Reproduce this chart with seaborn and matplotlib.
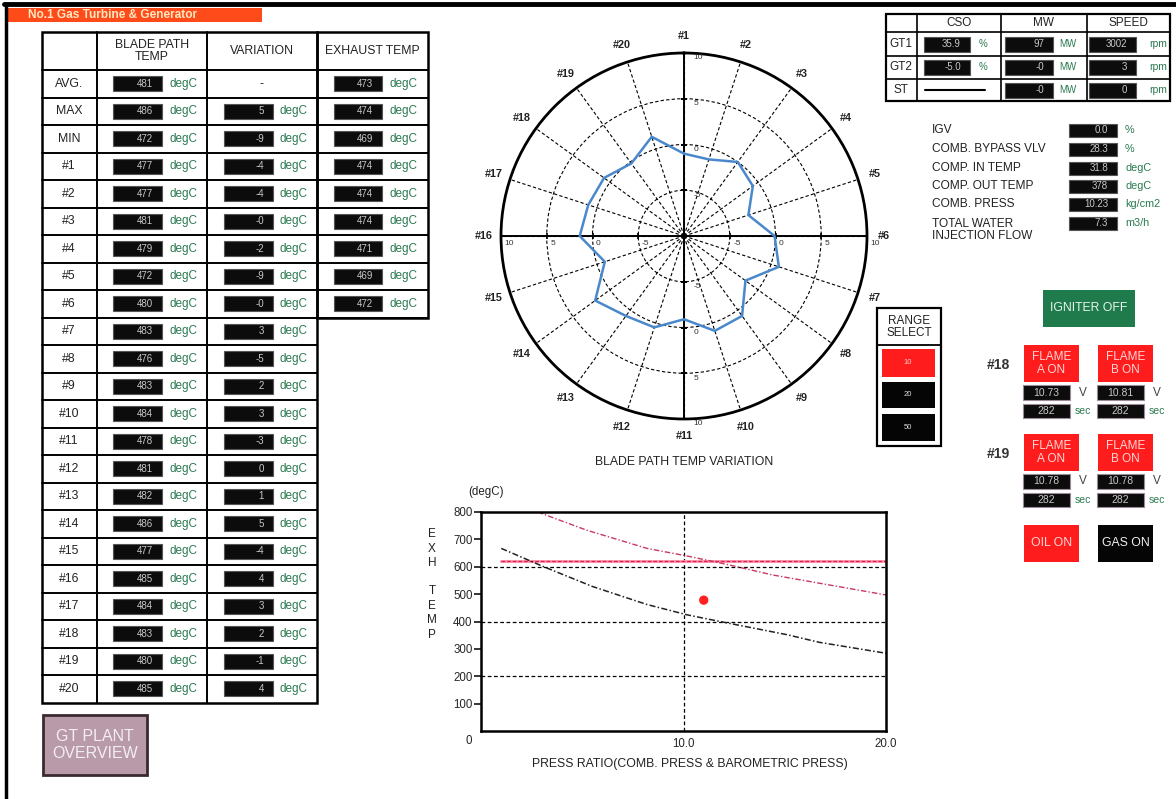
import numpy as np
import matplotlib.pyplot as plt
import seaborn as sns
from matplotlib.patches import Rectangle

W, H = 1176, 799

# ---- blade path table ----
row_labels = ['AVG.', 'MAX', 'MIN'] + ['#%d' % i for i in range(1, 21)]
blade_temp = [481, 486, 472, 477, 477, 481, 479, 472, 480, 483, 476, 483,
              484, 478, 481, 482, 486, 477, 485, 484, 483, 480, 485]
variation = ['-', '5', '-9', '-4', '-4', '-0', '-2', '-9', '-0', '3', '-5', '2',
             '3', '-3', '0', '1', '5', '-4', '4', '3', '2', '-1', '4']
exhaust_temp = [473, 474, 469, 474, 474, 474, 471, 469, 472]

# ---- radar (variation) ----
spoke_labels = ['#%d' % i for i in range(1, 21)]
radar_var = [-1.0, -1.2, 0.0, -0.7, -2.6, -0.1, 0.9, -1.7, 0.8, 0.9,
             -0.9, 0.5, 0.8, 2.0, -0.9, 1.4, 1.0, 0.8, -0.2, 1.4]
ring_values = [-5, 0, 5, 10]
ring_labels = ['-5', '0', '5', '10']
range_options = ['10', '20', '50']

# ---- unit table ----
unit_rows = ['GT1', 'GT2', 'ST']
cso = ['35.9', '-5.0', None]
mw = ['97', '-0', '-0']
speed = ['3002', '3', '0']

proc_labels = ['IGV', 'COMB. BYPASS VLV', 'COMP. IN TEMP', 'COMP. OUT TEMP',
               'COMB. PRESS', 'TOTAL WATER\nINJECTION FLOW']
proc_values = ['0.0', '28.3', '31.8', '378', '10.23', '7.3']
proc_units = ['%', '%', 'degC', 'degC', 'kg/cm2', 'm3/h']

flame18_volt = ['10.73', '10.81']
flame18_sec = ['282', '282']
flame19_volt = ['10.78', '10.78']
flame19_sec = ['282', '282']

# ---- exhaust temp vs press ratio ----
upper_x = [2.8, 5.2, 8.2, 10.2, 12.3, 14.4, 16.7, 20.0]
upper_y = [800, 734, 667, 639, 606, 570, 540, 497]
lower_x = [1.0, 3.1, 5.5, 8.2, 10.2, 11.8, 15.1, 16.7, 20.0]
lower_y = [667, 600, 528, 462, 424, 400, 352, 324, 284]
limit_x = [1.0, 20.0]
limit_y = [622, 622]
op_x = [11.0]
op_y = [478]

GREEN = '#2a7a50'
DARK = '#222222'

sns.set_style('white')
plt.rcParams['font.family'] = ['Liberation Sans', 'DejaVu Sans']

fig = plt.figure(figsize=(W / 100, H / 100), dpi=100)
bg = fig.add_axes([0, 0, 1, 1])
bg.set_xlim(0, W)
bg.set_ylim(H, 0)
bg.axis('off')


def box(x0, y0, x1, y1, fc='none', ec='k', lw=1.2, z=1):
    bg.add_patch(Rectangle((x0, y0), x1 - x0, y1 - y0, fc=fc, ec=ec, lw=lw, zorder=z))


def txt(x, y, s, size=8, color=DARK, ha='center', va='center', **kw):
    bg.text(x, y, s, fontsize=size, color=color, ha=ha, va=va, zorder=5, **kw)


def readout(x0, x1, yc, s, h=15, size=7, align='right', ec='#555555'):
    box(x0, yc - h / 2, x1, yc + h / 2, fc='#0c0c0c', ec=ec, lw=0.8, z=2)
    if align == 'right':
        txt(x1 - 9, yc, s, size=size, color='#c8c8c8', ha='right')
    else:
        txt((x0 + x1) / 2, yc, s, size=size, color='#c8c8c8')


# frame and title bar
bg.plot([4, W], [4, 4], color='k', lw=3.5)
bg.plot([5.5, 5.5], [4, H], color='k', lw=2.5)
box(8, 8, 262, 22, fc='#ff4a1a', ec='none')
txt(28, 15.5, 'No.1 Gas Turbine & Generator', size=8.6, color='#ffe8c0',
    ha='left', fontweight='bold')

# ---- left table ----
cols = [42, 97, 207, 317, 428]
top, hdr, rh = 32, 70, 27.5
n = len(row_labels)
bottom = hdr + n * rh
ex_bottom = hdr + len(exhaust_temp) * rh
box(cols[0], top, cols[3], bottom, lw=1.8)
box(cols[3], top, cols[4], ex_bottom, lw=1.8)
for c in cols[1:3]:
    bg.plot([c, c], [top, bottom], color='k', lw=1.4)
for i in range(n):
    y = hdr + i * rh
    right = cols[4] if i <= len(exhaust_temp) else cols[3]
    bg.plot([cols[0], right], [y, y], color='k', lw=1.4)

txt(152, 51, 'BLADE PATH\nTEMP', size=8.8, linespacing=1.1)
txt(262, 51, 'VARIATION', size=8.8)
txt(372, 51, 'EXHAUST TEMP', size=8.8)

for i, lab in enumerate(row_labels):
    yc = hdr + (i + 0.5) * rh
    txt(69, yc, lab, size=8.8)
    readout(113, 162, yc, str(blade_temp[i]))
    txt(169, yc, 'degC', size=8.5, color=GREEN, ha='left')
    if variation[i] == '-':
        txt(262, yc, '-', size=9)
    else:
        readout(224, 273, yc, variation[i])
        txt(280, yc, 'degC', size=8.5, color=GREEN, ha='left')
    if i < len(exhaust_temp):
        readout(334, 382, yc, str(exhaust_temp[i]))
        txt(390, yc, 'degC', size=8.5, color=GREEN, ha='left')

# GT plant overview button
box(43, 715, 147, 775, fc='#b89aa8', ec='#3a2a30', lw=2)
txt(95, 745, 'GT PLANT\nOVERVIEW', size=11.5, color='#f4eef2', linespacing=1.1)

# ---- top right unit table ----
ucols = [886, 917, 1001, 1087, 1170]
urows = [14, 32, 56, 79, 101]
box(ucols[0], urows[0], ucols[-1], urows[-1], lw=1.6)
for c in ucols[1:-1]:
    bg.plot([c, c], [urows[0], urows[-1]], color='k', lw=1.2)
for r in urows[1:-1]:
    bg.plot([ucols[0], ucols[-1]], [r, r], color='k', lw=1.2)
for c0, c1, lab in zip(ucols[1:-1], ucols[2:], ['CSO', 'MW', 'SPEED']):
    txt((c0 + c1) / 2, (urows[0] + urows[1]) / 2, lab, size=8.5)
for i, lab in enumerate(unit_rows):
    yc = (urows[i + 1] + urows[i + 2]) / 2
    txt(901, yc, lab, size=8.5)
    if cso[i] is None:
        bg.plot([925, 985], [yc, yc], color='k', lw=1.5)
    else:
        readout(924, 970, yc, cso[i])
        txt(983, yc, '%', size=7, color=GREEN)
    readout(1005, 1053, yc, mw[i])
    txt(1059, yc, 'MW', size=7, color=GREEN, ha='left')
    readout(1089, 1136, yc, speed[i])
    txt(1149, yc, 'rpm', size=7.5, color=GREEN, ha='left')

proc_y = [130, 149, 168, 186, 204, 223]
for lab, val, unit, y in zip(proc_labels, proc_values, proc_units, proc_y):
    ly = y + 7 if '\n' in lab else y
    txt(932, ly, lab, size=8.6, ha='left', linespacing=1.05)
    readout(1069, 1117, y, val, h=13)
    txt(1125, y, unit, size=7.8, color=GREEN, ha='left')

# range select
box(877, 308, 941, 446, lw=1.6)
bg.plot([877, 941], [345, 345], color='k', lw=1.3)
txt(909, 327, 'RANGE\nSELECT', size=8.5, linespacing=1.1)
for (y0, y1), lab, fc in zip([(349, 377), (382, 408), (414, 441)], range_options,
                             ['#ff1c1c', '#050505', '#050505']):
    box(882, y0, 935, y1, fc=fc, ec='none')
    txt(908, (y0 + y1) / 2, lab, size=5.5, color='#ffcccc' if fc != '#050505' else '#dddddd')

# igniter / flame
box(1043, 290, 1135, 327, fc='#1f7a4c', ec='none')
txt(1089, 308, 'IGNITER OFF', size=8.8, color='#e8f4ec')

for label, ytop, volts, secs in [('#18', 345, flame18_volt, flame18_sec),
                                 ('#19', 434, flame19_volt, flame19_sec)]:
    txt(998, ytop + 20, label, size=10, color='#333333', fontweight='bold')
    for x0, ab, v, s in zip([1024, 1098], ['A', 'B'], volts, secs):
        box(x0, ytop, x0 + 55, ytop + 37, fc='#ff1c1c', ec='none')
        txt(x0 + 27.5, ytop + 18.5, 'FLAME\n%s ON' % ab, size=8.5, color='#ffd6d6', linespacing=1.1)
        readout(x0 - 1, x0 + 46, ytop + 47.5, v, h=15, size=7.5, align='center', ec='#9a8a9a')
        txt(x0 + 59, ytop + 47.5, 'V', size=8.5, color='#444444')
        readout(x0 - 1, x0 + 46, ytop + 66, s, h=14, size=7.5, align='center', ec='#9a8a9a')
        txt(x0 + 51, ytop + 66, 'sec', size=7.5, color=GREEN, ha='left')

box(1024, 525, 1079, 562, fc='#ff1c1c', ec='none')
txt(1051.5, 543.5, 'OIL ON', size=8.8, color='#ffd6d6')
box(1098, 525, 1153, 562, fc='#050505', ec='none')
txt(1125.5, 543.5, 'GAS ON', size=8.8, color='#f0f0f0')

# ---- radar ----
cx, cy, rad = 684, 236, 183
axp = fig.add_axes([(cx - rad) / W, 1 - (cy + rad) / H, 2 * rad / W, 2 * rad / H],
                   projection='polar')
axp.set_theta_zero_location('N')
axp.set_theta_direction(-1)
theta = np.deg2rad(np.arange(20) * 18)
th = np.append(theta, 2 * np.pi)
rv = radar_var + [radar_var[0]]
sns.lineplot(x=th, y=rv, ax=axp, color='#4a88cc', lw=1.8, sort=False, zorder=4)
axp.set_ylim(-10, 10)
axp.set_xlabel('')
axp.set_ylabel('')
axp.set_xticks(theta)
axp.set_xticklabels(spoke_labels, fontsize=7.8, fontweight='bold', color='#222222')
axp.set_yticks([-5, 0, 5])
axp.set_yticklabels([])
axp.grid(True, color='k', ls=(0, (3, 2)), lw=0.8)
axp.spines['polar'].set_linewidth(2)
axp.spines['polar'].set_color('k')
axp.tick_params(axis='x', pad=2)
for t in [0, np.pi / 2, np.pi, 3 * np.pi / 2]:
    axp.plot([t, t], [-10, 10], color='k', lw=1.4, zorder=3)
    mk = '_' if t in (0, np.pi) else '|'
    axp.plot([t] * 3, [-5, 0, 5], ls='none', marker=mk, ms=5, mew=1.2, color='k', zorder=3)
    off = (7, -1) if mk == '_' else (2.5, -3)
    for val, lab in zip(ring_values, ring_labels):
        axp.annotate(lab, (t, val), xytext=off, textcoords='offset points',
                     fontsize=6, color='#333333', ha='left', va='top')
txt(684, 462, 'BLADE PATH TEMP VARIATION', size=8.8)

# ---- exhaust temp chart ----
ax2 = fig.add_axes([481 / W, 1 - 731 / H, 405 / W, 219 / H])
for y in [200, 400, 600]:
    ax2.axhline(y, color='k', ls=(0, (3, 2)), lw=0.9)
ax2.axvline(10, color='k', ls=(0, (3, 2)), lw=0.9)
sns.lineplot(x=limit_x, y=limit_y, ax=ax2, color='#ff9ab4', lw=2.2, sort=False)
sns.lineplot(x=limit_x, y=limit_y, ax=ax2, color='#e0204a', lw=0.9,
             linestyle=(0, (3, 1.5)), sort=False)
sns.lineplot(x=upper_x, y=upper_y, ax=ax2, color='#c83a62', lw=1,
             linestyle=(0, (4, 1.5, 1, 1.5)), sort=False)
sns.lineplot(x=lower_x, y=lower_y, ax=ax2, color='#222222', lw=1.1,
             linestyle=(0, (4, 1.5, 1, 1.5)), sort=False)
sns.scatterplot(x=op_x, y=op_y, ax=ax2, color='#ff2020', s=45, edgecolor='none', zorder=5)
ax2.set_xlim(0, 20)
ax2.set_ylim(0, 800)
ax2.set_yticks(range(100, 900, 100))
ax2.set_yticklabels([str(v) for v in range(100, 900, 100)], fontsize=8.3)
ax2.set_xticks([10, 20])
ax2.set_xticklabels(['10.0', '20.0'], fontsize=8.3)
ax2.tick_params(axis='y', direction='out', length=5, width=1.3, pad=1, left=True)
ax2.tick_params(axis='x', length=0, pad=5)
for sp in ax2.spines.values():
    sp.set_linewidth(1.8)
    sp.set_color('k')
ax2.set_xlabel('')
ax2.set_ylabel('')

txt(469, 741, '0', size=8.3)
txt(486, 492, '(degC)', size=8.3)
for ch, y in zip('EXH', [534, 549, 563]):
    txt(432, y, ch, size=8.5)
for ch, y in zip('TEMP', [591, 606, 620, 635]):
    txt(432, y, ch, size=8.5)
txt(690, 764, 'PRESS RATIO(COMB. PRESS & BAROMETRIC PRESS)', size=8.8)

fig.savefig('out.png', dpi=100)
